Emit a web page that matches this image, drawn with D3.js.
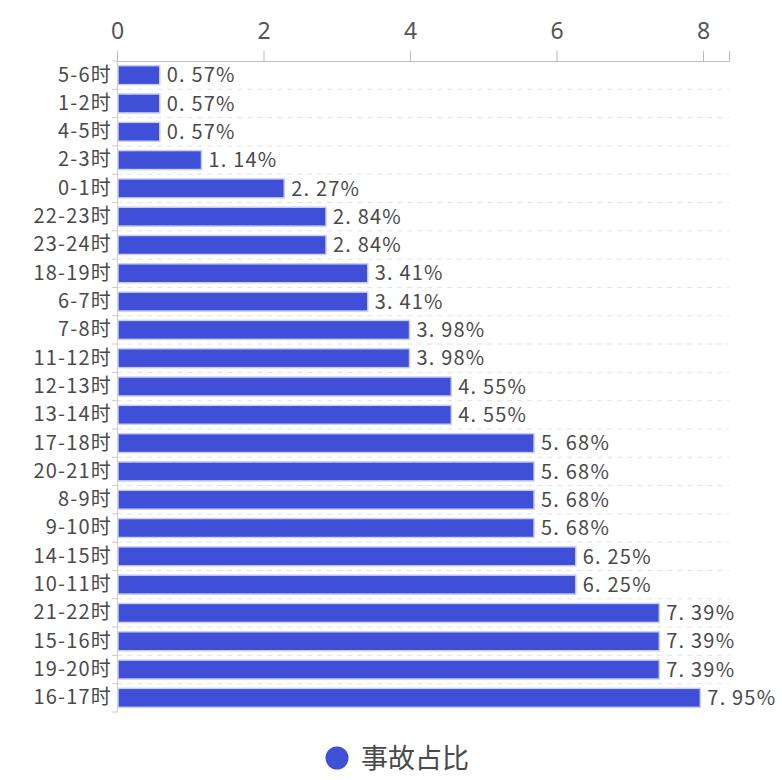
<!DOCTYPE html>
<html>
<head>
<meta charset="utf-8">
<script src="https://cdn.jsdelivr.net/npm/d3@7"></script>
<style>
  body { margin: 0; background: #fff; }
  text { font-family: "Noto Sans CJK SC", "Noto Sans", sans-serif; }
</style>
</head>
<body>
<div id="chart"></div>
<script>
// hour slots, top to bottom
const categories = ["5-6时", "1-2时", "4-5时", "2-3时", "0-1时", "22-23时", "23-24时",
  "18-19时", "6-7时", "7-8时", "11-12时", "12-13时", "13-14时", "17-18时", "20-21时",
  "8-9时", "9-10时", "14-15时", "10-11时", "21-22时", "15-16时", "19-20时", "16-17时"];
const values = [0.57, 0.57, 0.57, 1.14, 2.27, 2.84, 2.84, 3.41, 3.41, 3.98, 3.98,
  4.55, 4.55, 5.68, 5.68, 5.68, 5.68, 6.25, 6.25, 7.39, 7.39, 7.39, 7.95];
const xTicks = [0, 2, 4, 6, 8];
const seriesName = "事故占比";

const width = 782, height = 780;
const mLeft = 117, mTop = 61, mBottom = 712;
const pxPerUnit = (703 - 117) / 8;
const mRight = 729;

const svg = d3.select('#chart').append('svg')
  .attr('width', width).attr('height', height);

const x = d3.scaleLinear().domain([0, (mRight - mLeft) / pxPerUnit]).range([mLeft, mRight]);
const y = d3.scaleBand().domain(categories).range([mTop, mBottom]).paddingInner(0.33).paddingOuter(0.165);

// dashed gridlines at band boundaries
const step = y.step();
svg.append('g').selectAll('line')
  .data(d3.range(1, categories.length))
  .enter().append('line')
  .attr('x1', mLeft).attr('x2', mRight)
  .attr('y1', i => mTop + i * step).attr('y2', i => mTop + i * step)
  .attr('stroke', '#e3e3e3').attr('stroke-dasharray', '5,5');

// top axis
const gx = svg.append('g').attr('transform', `translate(0,${mTop})`)
  .call(d3.axisTop(x).tickValues(xTicks).tickSize(10).tickPadding(12));
gx.select('.domain').attr('stroke', '#bbb');
gx.selectAll('.tick line').attr('stroke', '#bbb');
gx.selectAll('.tick text').attr('fill', '#555').attr('font-size', 23)
  .style('font-family', '"Noto Sans", sans-serif');

// left axis
const gy = svg.append('g').attr('transform', `translate(${mLeft},0)`)
  .call(d3.axisLeft(y).tickSize(0).tickPadding(5));
gy.select('.domain').attr('stroke', '#ccc');
gy.selectAll('.tick text').attr('fill', '#4a4a4a').attr('font-size', 20)
  .attr('letter-spacing', 1.2);
// small ticks on band boundaries
svg.append('g').selectAll('line')
  .data(d3.range(0, categories.length + 1))
  .enter().append('line')
  .attr('x1', mLeft - 5).attr('x2', mLeft)
  .attr('y1', i => mTop + i * step).attr('y2', i => mTop + i * step)
  .attr('stroke', '#ccc');

// bars
svg.append('g').selectAll('rect')
  .data(values)
  .enter().append('rect')
  .attr('x', x(0) + 1)
  .attr('y', (d, i) => y(categories[i]))
  .attr('width', d => x(d) - x(0))
  .attr('height', y.bandwidth())
  .attr('fill', '#3f4fd8')
  .attr('stroke', '#c9cff3')
  .attr('stroke-width', 1.5);

// value labels
svg.append('g').selectAll('text')
  .data(values)
  .enter().append('text')
  .attr('x', d => x(d) + 8)
  .attr('y', (d, i) => y(categories[i]) + y.bandwidth() / 2)
  .attr('dy', '0.36em')
  .attr('fill', '#4a4a4a')
  .attr('font-size', 20)
  .attr('letter-spacing', 1.2)
  .text(d => d.toFixed(2).replace('.', '. ') + '%');

// legend
const lg = svg.append('g').attr('transform', 'translate(337,758)');
lg.append('circle').attr('r', 11.5).attr('fill', '#3f4fd8');
lg.append('text').attr('x', 24).attr('dy', '0.36em')
  .attr('fill', '#4a4a4a').attr('font-size', 27).text(seriesName);
</script>
</body>
</html>
